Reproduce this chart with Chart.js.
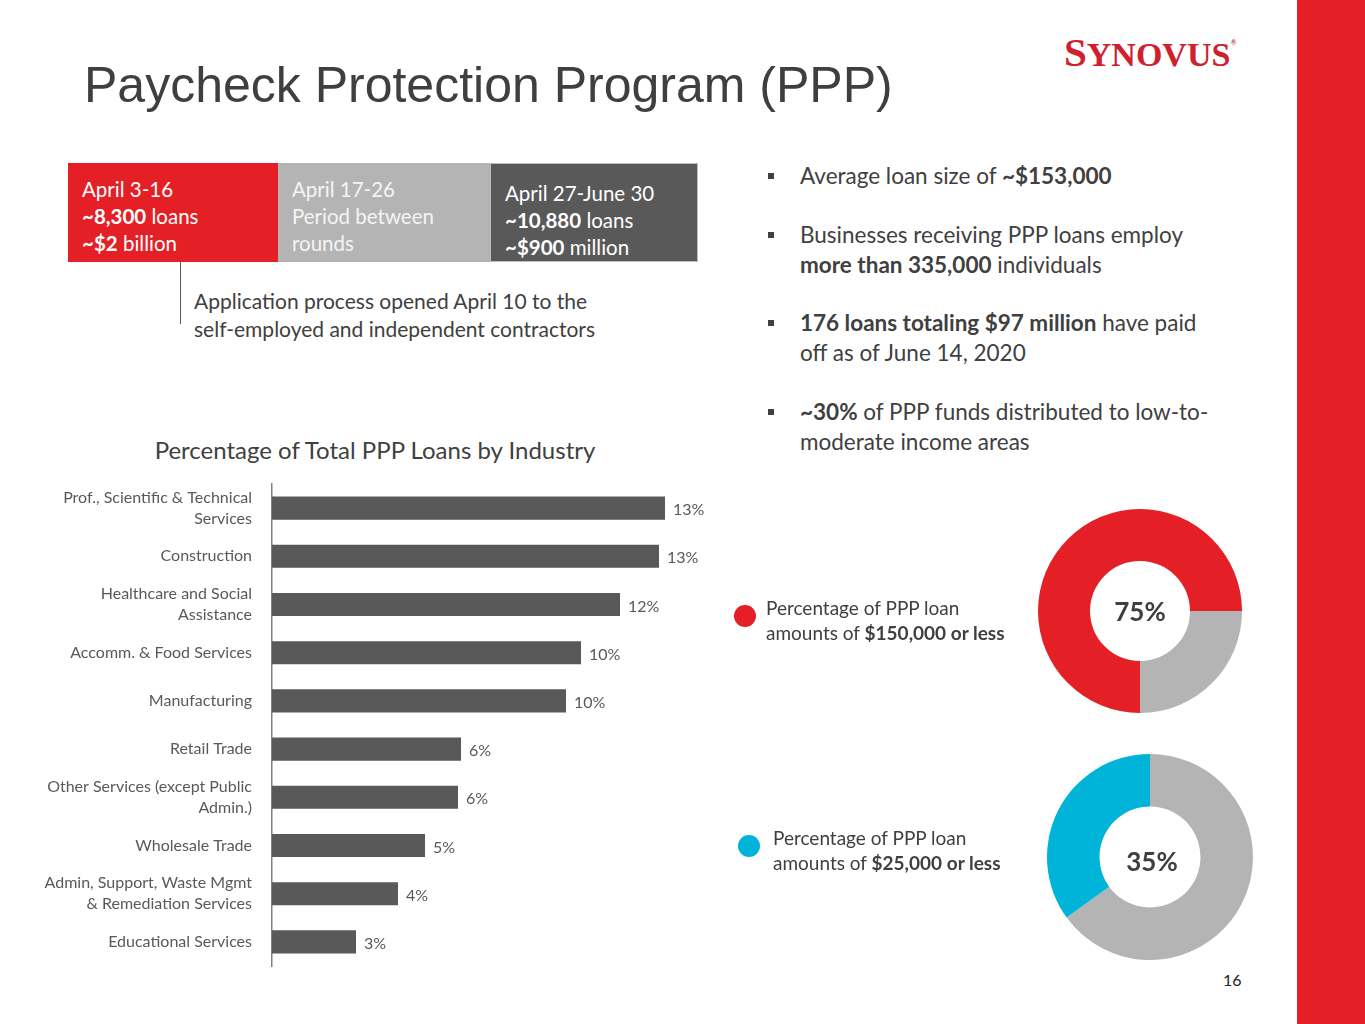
<!DOCTYPE html>
<html>
<head>
<meta charset="utf-8">
<script src="https://cdn.jsdelivr.net/npm/chart.js@4/dist/chart.umd.min.js"></script>
<style>
  body { margin:0; width:1365px; height:1024px; background:#fff; position:relative; overflow:hidden; font-family: Lato, "Open Sans", sans-serif; color:#404040; }
  .abs { position:absolute; white-space:nowrap; }
  #title { left:84px; top:56px; font-family:"Liberation Sans", Arial, sans-serif; font-size:50px; color:#3f3f3f; }
  #logo { left:1064px; top:28px; font-family:"Liberation Serif", serif; font-weight:bold; color:#d0202e; font-size:34px; }
  #logo .big { font-size:41px; }
  #logo sup { font-size:8px; vertical-align:top; position:relative; top:10px; }
  #strip { left:1297px; top:0; width:68px; height:1024px; background:#e41f26; }
  .box { position:absolute; top:163px; height:99px; box-sizing:border-box; padding:13px 0 0 14px; font-size:20.5px; line-height:27px; color:#fff; }
  #b1 { left:68px; width:210px; background:#e41f26; }
  #b2 { left:278px; width:212px; background:#b4b4b4; color:#f4f4f4; }
  #b3 { left:490px; width:208px; background:#595959; padding-top:16px; border:1px solid #bdbdbd; }
  #connector { left:180px; top:262px; width:1px; height:62px; background:#595959; }
  #appnote { left:194px; top:287px; font-size:21px; line-height:28px; color:#404040; }
  .bullet { position:absolute; left:768px; font-size:22.5px; line-height:30px; color:#404040; }
  .bullet .sq { position:absolute; left:0; top:12px; width:6px; height:6px; background:#404040; }
  .bullet .tx { margin-left:32px; white-space:nowrap; }
  #subtitle { left:0; width:750px; text-align:center; top:435px; font-size:24px; color:#404040; }
  .dot { position:absolute; width:22px; height:22px; border-radius:50%; }
  .legend { position:absolute; font-size:19px; line-height:25px; color:#404040; white-space:nowrap; }
  .center { position:absolute; font-size:26px; font-weight:bold; color:#3f3f3f; text-align:center; width:100px; }
  #page { left:1223px; top:970px; font-size:16px; color:#222; }
  canvas { position:absolute; }
</style>
</head>
<body>
<div id="strip" class="abs"></div>
<div id="title" class="abs">Paycheck Protection Program (PPP)</div>
<div id="logo" class="abs"><span class="big">S</span>YNOVUS<sup>®</sup></div>

<div id="b1" class="box">April 3-16<br><b>~8,300</b> loans<br><b>~$2</b> billion</div>
<div id="b2" class="box">April 17-26<br>Period between<br>rounds</div>
<div id="b3" class="box">April 27-June 30<br><b>~10,880</b> loans<br><b>~$900</b> million</div>
<div id="connector" class="abs"></div>
<div id="appnote" class="abs">Application process opened April 10 to the<br>self-employed and independent contractors</div>

<div class="bullet" style="top:161px"><span class="sq"></span><div class="tx">Average loan size of <b>~$153,000</b></div></div>
<div class="bullet" style="top:220px"><span class="sq"></span><div class="tx">Businesses receiving PPP loans employ<br><b>more than 335,000</b> individuals</div></div>
<div class="bullet" style="top:308px"><span class="sq"></span><div class="tx"><b>176 loans totaling $97 million</b> have paid<br>off as of June 14, 2020</div></div>
<div class="bullet" style="top:397px"><span class="sq"></span><div class="tx"><b>~30%</b> of PPP funds distributed to low-to-<br>moderate income areas</div></div>

<div id="subtitle" class="abs">Percentage of Total PPP Loans by Industry</div>

<canvas id="bar-chart" width="700" height="490" style="left:40px; top:480px;"></canvas>

<div class="dot" style="left:734px; top:605px; background:#e41f26"></div>
<div class="legend" style="left:766px; top:595px">Percentage of PPP loan<br>amounts of <b>$150,000 or less</b></div>
<canvas id="donut-150" width="204" height="204" style="left:1038px; top:509px;"></canvas>
<div class="center" style="left:1090px; top:595px">75%</div>

<div class="dot" style="left:738px; top:835px; background:#00b3d9"></div>
<div class="legend" style="left:773px; top:825px">Percentage of PPP loan<br>amounts of <b>$25,000 or less</b></div>
<canvas id="donut-25" width="206" height="206" style="left:1047px; top:754px;"></canvas>
<div class="center" style="left:1102px; top:845px">35%</div>

<div id="page" class="abs">16</div>

<script>
// datos del grafico de barras
const industrias = [
  ["Prof., Scientific & Technical", "Services"],
  "Construction",
  ["Healthcare and Social", "Assistance"],
  "Accomm. & Food Services",
  "Manufacturing",
  "Retail Trade",
  ["Other Services (except Public", "Admin.)"],
  "Wholesale Trade",
  ["Admin, Support, Waste Mgmt", "& Remediation Services"],
  "Educational Services",
];
const porcentajes = [13.1, 12.9, 11.6, 10.3, 9.8, 6.3, 6.2, 5.1, 4.2, 2.8];
const etiquetas = ["13%", "13%", "12%", "10%", "10%", "6%", "6%", "5%", "4%", "3%"];

// donas
const donaLabels150 = ["$150,000 or less", "Other"];
const dona150 = [75, 25];
const donaLabels25 = ["Other", "$25,000 or less"];
const dona25 = [65, 35];

const valueLabels = {
  id: "valueLabels",
  afterDatasetsDraw(chart) {
    const ctx = chart.ctx;
    ctx.save();
    ctx.font = "16px Lato, 'Open Sans', sans-serif";
    ctx.fillStyle = "#595959";
    ctx.textBaseline = "middle";
    chart.getDatasetMeta(0).data.forEach((bar, i) => {
      ctx.fillText(etiquetas[i], bar.x + 8, bar.y + 2);
    });
    ctx.restore();
  },
};

const contenedorBarChart = document.querySelector("#bar-chart").getContext("2d");
const barChart = new Chart(contenedorBarChart, {
  type: "bar",
  data: {
    labels: industrias,
    datasets: [{
      data: porcentajes,
      backgroundColor: "#595959",
      categoryPercentage: 1,
      barPercentage: 0.48,
    }],
  },
  options: {
    indexAxis: "y",
    responsive: false,
    animation: false,
    layout: { padding: { top: 4, bottom: 4, right: 0, left: 0 } },
    plugins: { legend: { display: false }, tooltip: { enabled: false } },
    scales: {
      x: { display: false, min: 0, max: 15.6 },
      y: {
        afterFit(scale) {
          scale.width = 232;
          scale.paddingTop = 0;
          scale.paddingBottom = 0;
        },
        grid: { display: false, drawTicks: false },
        border: { display: true, color: "#808080", width: 1.5 },
        ticks: {
          color: "#595959",
          padding: 20,
          font: { family: "Lato, 'Open Sans', sans-serif", size: 16, lineHeight: 1.3 },
        },
      },
    },
  },
  plugins: [valueLabels],
});

const configDona = (labels, data, colors, rotation) => ({
  type: "doughnut",
  data: {
    labels: labels,
    datasets: [{ data: data, backgroundColor: colors, borderWidth: 0 }],
  },
  options: {
    responsive: false,
    animation: false,
    cutout: "49%",
    rotation: rotation,
    plugins: { legend: { display: false }, tooltip: { enabled: false } },
  },
});

const donut150 = new Chart(
  document.querySelector("#donut-150").getContext("2d"),
  configDona(donaLabels150, dona150, ["#e41f26", "#b4b4b4"], 180)
);
const donut25 = new Chart(
  document.querySelector("#donut-25").getContext("2d"),
  configDona(donaLabels25, dona25, ["#b4b4b4", "#00b3d9"], 0)
);
</script>
</body>
</html>
